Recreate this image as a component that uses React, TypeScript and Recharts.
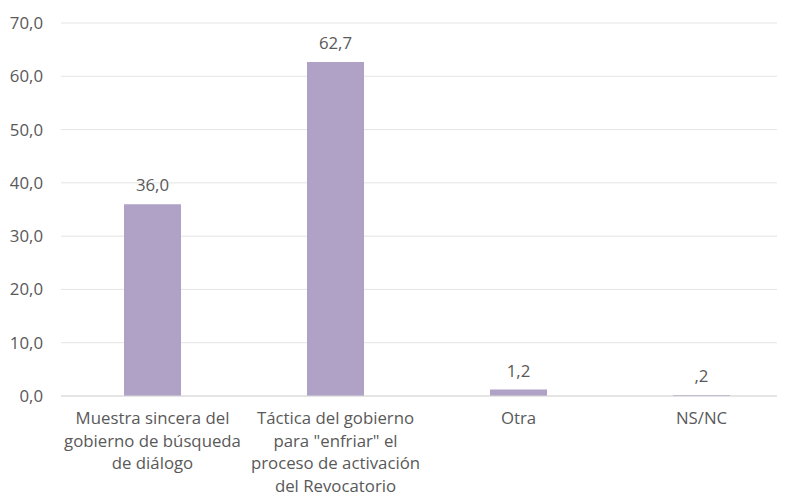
import { BarChart, Bar, XAxis, YAxis, CartesianGrid, LabelList } from "recharts";

// categories (line breaks as in the original chart)
const categories = [
  "Muestra sincera del\ngobierno de búsqueda\nde diálogo",
  "Táctica del gobierno\npara \"enfriar\" el\nproceso de activación\ndel Revocatorio",
  "Otra",
  "NS/NC",
];
const values = [36.0, 62.7, 1.2, 0.2];
const yTicks = [0, 10, 20, 30, 40, 50, 60, 70];

const data = categories.map((name, i) => ({ name, value: values[i] }));

const TEXT = "#595959";
const FONT = "'Open Sans', sans-serif";
const SIZE = 16.8;

// SPSS-style comma decimals: 0.2 -> ",2"
const fmt = (v: number) => v.toFixed(1).replace(".", ",").replace(/^0,(?!0$)/, ",");

function CategoryTick({ x, y, payload }: any) {
  const lines = String(payload.value).split("\n");
  return (
    <text x={x} y={y} textAnchor="middle" fill={TEXT} fontSize={SIZE} fontFamily={FONT}>
      {lines.map((l, i) => (
        <tspan key={i} x={x} dy={i === 0 ? 20 : 22.5}>
          {l}
        </tspan>
      ))}
    </text>
  );
}

export default function App() {
  // the original plot runs a little past the right edge, so clip it
  return (
    <div style={{ margin: -8, background: "#fff", width: 785, height: 500, overflow: "hidden" }}>
      <BarChart
        width={793}
        height={500}
        data={data}
        margin={{ top: 23, right: 0, bottom: 0, left: 0 }}
      >
        <CartesianGrid vertical={false} stroke="#e4e4e4" />
        <XAxis
          dataKey="name"
          axisLine={{ stroke: "#d9d9d9" }}
          tickLine={false}
          interval={0}
          tick={<CategoryTick />}
          height={104}
        />
        <YAxis
          width={61}
          domain={[0, 70]}
          ticks={yTicks}
          axisLine={false}
          tickLine={false}
          tickSize={0}
          tickMargin={18}
          tickFormatter={(v: number) => fmt(v).replace(/^,/, "0,")}
          tick={{ fill: TEXT, fontSize: SIZE, fontFamily: FONT }}
        />
        <Bar dataKey="value" fill="#b0a2c6" barSize={57} isAnimationActive={false}>
          <LabelList
            dataKey="value"
            position="top"
            offset={13}
            formatter={(v: any) => fmt(Number(v))}
            style={{ fill: TEXT, fontSize: SIZE, fontFamily: FONT }}
          />
        </Bar>
      </BarChart>
    </div>
  );
}
